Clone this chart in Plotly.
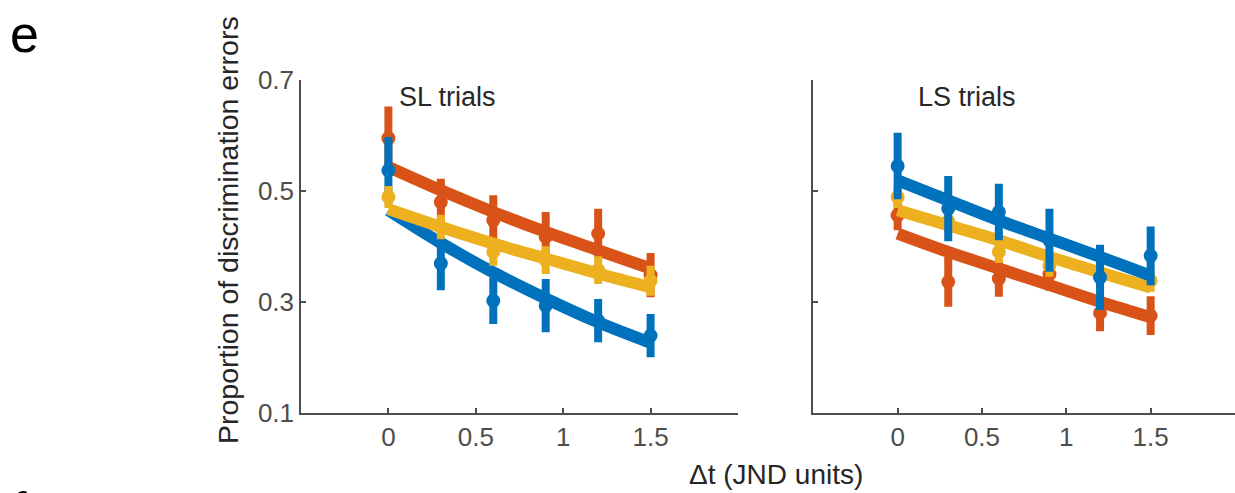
import plotly.graph_objects as go

W, H = 1235, 493

dt = [0, 0.3, 0.6, 0.9, 1.2, 1.5]

# SL trials (left panel) - data points and error half-widths
sl_orange = [0.595, 0.480, 0.447, 0.417, 0.423, 0.348]
sl_orange_err = [0.057, 0.042, 0.045, 0.045, 0.045, 0.040]
sl_yellow = [0.489, 0.435, 0.390, 0.375, 0.357, 0.338]
sl_yellow_err = [0.020, 0.022, 0.025, 0.025, 0.025, 0.027]
sl_blue = [0.537, 0.369, 0.302, 0.293, 0.266, 0.239]
sl_blue_err = [0.060, 0.048, 0.042, 0.048, 0.039, 0.039]

# SL fitted curves
sl_orange_fit = [0.543, 0.501, 0.462, 0.426, 0.393, 0.360]
sl_yellow_fit = [0.467, 0.435, 0.405, 0.378, 0.351, 0.326]
sl_blue_fit = [0.465, 0.406, 0.353, 0.306, 0.263, 0.226]

# LS trials (right panel)
ls_orange = [0.456, 0.336, 0.342, 0.350, 0.280, 0.275]
ls_orange_err = [0.027, 0.045, 0.033, 0.030, 0.033, 0.035]
ls_yellow = [0.489, 0.445, 0.390, 0.365, 0.345, 0.338]
ls_yellow_err = [0.020, 0.020, 0.020, 0.020, 0.020, 0.020]
ls_blue = [0.545, 0.468, 0.462, 0.411, 0.344, 0.383]
ls_blue_err = [0.060, 0.059, 0.051, 0.057, 0.059, 0.053]

# LS fitted curves
ls_orange_fit = [0.423, 0.390, 0.360, 0.330, 0.300, 0.272]
ls_yellow_fit = [0.465, 0.438, 0.411, 0.381, 0.353, 0.326]
ls_blue_fit = [0.519, 0.483, 0.447, 0.414, 0.381, 0.347]

x_ticks = [0, 0.5, 1, 1.5]
x_tick_text = ["0", "0.5", "1", "1.5"]
y_ticks = [0.1, 0.3, 0.5, 0.7]
y_tick_text = ["0.1", "0.3", "0.5", "0.7"]

BLUE = "#0072BD"
ORANGE = "#D95319"
YELLOW = "#EDB120"

fig = go.Figure()


def add_series(xa, ya, pts, err, fit, color):
    fig.add_trace(go.Scatter(
        x=dt, y=pts, mode="markers", xaxis=xa, yaxis=ya,
        marker=dict(color=color, size=14, symbol="circle"),
        error_y=dict(type="data", array=err, visible=True, color=color,
                     thickness=8, width=0),
        showlegend=False, hoverinfo="skip"))
    fig.add_trace(go.Scatter(
        x=dt, y=fit, mode="lines", xaxis=xa, yaxis=ya,
        line=dict(color=color, width=12, shape="spline"),
        showlegend=False, hoverinfo="skip"))


add_series("x", "y", sl_orange, sl_orange_err, sl_orange_fit, ORANGE)
add_series("x", "y", sl_blue, sl_blue_err, sl_blue_fit, BLUE)
add_series("x", "y", sl_yellow, sl_yellow_err, sl_yellow_fit, YELLOW)

add_series("x2", "y2", ls_orange, ls_orange_err, ls_orange_fit, ORANGE)
add_series("x2", "y2", ls_yellow, ls_yellow_err, ls_yellow_fit, YELLOW)
add_series("x2", "y2", ls_blue, ls_blue_err, ls_blue_fit, BLUE)

AX = "#4d4d4d"
FAM = "Liberation Sans, Arial, sans-serif"
TICKFONT = dict(family=FAM, size=26, color="#4d4d4d")

xcommon = dict(range=[-0.5, 2], tickvals=x_ticks, ticktext=x_tick_text,
               showline=True, linecolor=AX, linewidth=1.5, ticks="inside",
               ticklen=5, tickwidth=1.5, tickcolor=AX, showgrid=False,
               zeroline=False, tickfont=TICKFONT, automargin=False)
ycommon = dict(range=[0.1, 0.7], tickvals=y_ticks,
               showline=True, linecolor=AX, linewidth=1.5, ticks="inside",
               ticklen=5, tickwidth=1.5, tickcolor=AX, showgrid=False,
               zeroline=False, tickfont=TICKFONT, automargin=False)

ybot = 1 - 412.7 / H
ytop = 1 - 80 / H

fig.update_layout(
    width=W, height=H, autosize=False,
    margin=dict(l=0, r=0, t=0, b=0, pad=0),
    paper_bgcolor="white", plot_bgcolor="white",
    xaxis=dict(**xcommon, domain=[301 / W, 738 / W], anchor="y"),
    yaxis=dict(**ycommon, domain=[ybot, ytop], anchor="x",
               ticktext=y_tick_text),
    xaxis2=dict(**xcommon, domain=[813.3 / W, 1.0], anchor="y2"),
    yaxis2=dict(**ycommon, domain=[ybot, ytop], anchor="x2",
                showticklabels=False),
    font=dict(family=FAM),
)

TXT = "#262626"
fig.add_annotation(text="SL trials", xref="x", yref="paper", x=0.05, xanchor="left",
                   y=1 - 97 / H, yanchor="middle", showarrow=False,
                   font=dict(size=27, color=TXT))
fig.add_annotation(text="LS trials", xref="x2", yref="paper", x=0.11, xanchor="left",
                   y=1 - 97 / H, yanchor="middle", showarrow=False,
                   font=dict(size=27, color=TXT))
fig.add_annotation(text="Proportion of discrimination errors", xref="paper", yref="paper",
                   x=228 / W, y=1 - 230 / H, xanchor="center", yanchor="middle",
                   textangle=-90, showarrow=False, font=dict(size=28.5, color=TXT))
fig.add_annotation(text="Δt (JND units)", xref="paper", yref="paper",
                   x=776 / W, y=1 - 474 / H, xanchor="center", yanchor="middle",
                   showarrow=False, font=dict(size=28, color=TXT))
fig.add_annotation(text="e", xref="paper", yref="paper",
                   x=8 / W, y=1 - 34 / H, xanchor="left", yanchor="middle",
                   showarrow=False, font=dict(size=52, color="black"))
fig.add_annotation(text="f", xref="paper", yref="paper",
                   x=10 / W, y=1 - 480 / H, xanchor="left", yanchor="top",
                   showarrow=False, font=dict(size=52, color="black"))

fig.write_html("out.html")
